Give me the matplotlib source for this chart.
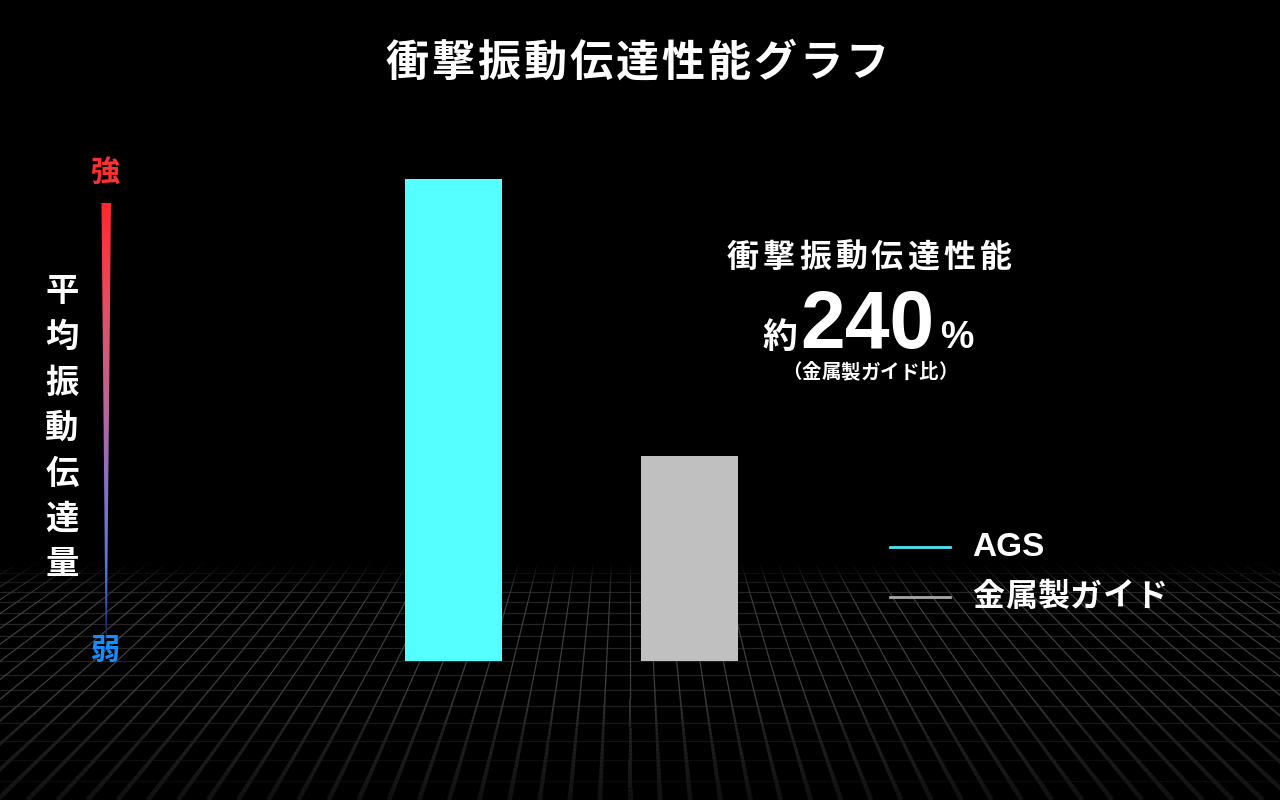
import numpy as np
import matplotlib
matplotlib.use("Agg")
import matplotlib.pyplot as plt
from matplotlib.patches import Polygon
from matplotlib.collections import LineCollection

plt.rcParams['font.family'] = ['Noto Sans CJK JP', 'DejaVu Sans']

# データ
categories = ["AGS", "金属製ガイド"]
values = [235, 100]          # 金属製ガイド = 100 とした相対値
bar_colors = ["#55FFFF", "#C0C0C0"]
legend_colors = ["#4FE6F2", "#A8A8A8"]

title = "衝撃振動伝達性能グラフ"
ylabel = "平均振動伝達量"
note_head = "衝撃振動伝達性能"
note_value = "240"
note_sub = "（金属製ガイド比）"

W, H = 1280, 800
fig = plt.figure(figsize=(W / 100, H / 100), dpi=100, facecolor="black")

# 背景（ピクセル座標）
bg = fig.add_axes([0, 0, 1, 1])
bg.set_autoscale_on(False)
bg.set_xlim(0, W)
bg.set_ylim(H, 0)
bg.set_facecolor("black")
bg.axis("off")


def spaced(ax, text, cx, cy, step, **kw):
    """文字を等間隔に並べる（字間あり）"""
    n = len(text)
    for i, ch in enumerate(text):
        ax.text(cx + (i - (n - 1) / 2) * step, cy, ch, ha="center",
                va="center", **kw)


# 遠近グリッドの床（奥はくっきり、手前はぼやけて暗く）
y_h, x_vp = 185.0, 630.0
edges = np.linspace(562, 800, 60)
mids = (edges[:-1] + edges[1:]) / 2
g_v = np.interp(mids, [562, 585, 605, 690, 730, 800], [0, 0.18, 0.27, 0.25, 0.13, 0.065])
lw_v = np.interp(mids, [562, 690, 800], [0.8, 0.9, 3.5])
segs, cols, lws = [], [], []
for k in range(-45, 46):
    for y0, y1, g, w in zip(edges[:-1], edges[1:], g_v, lw_v):
        segs.append([(x_vp + k * 0.049 * (y0 - y_h), y0),
                     (x_vp + k * 0.049 * (y1 - y_h), y1)])
        cols.append((g, g, g))
        lws.append(w)
bg.add_collection(LineCollection(segs, colors=cols, linewidths=lws,
                                 capstyle="butt", zorder=1))
for k in range(-4, 15):
    y = y_h + 1.0 / (0.002459 - 0.00006 * k)
    if 562 < y < 800:
        g = np.interp(y, [562, 590, 700, 760, 800], [0, 0.14, 0.13, 0.05, 0.03])
        bg.plot([0, W], [y, y], color=(g, g, g), lw=0.9, zorder=0.9)

# 強弱の縦グラデーション
stops_y = [203, 300, 400, 480, 560, 600, 640]
stops_c = np.array([[255, 40, 45], [235, 75, 95], [190, 100, 150],
                    [140, 110, 195], [90, 120, 225], [55, 95, 200],
                    [15, 30, 70]]) / 255.0
gy = np.linspace(203, 640, 300)
grad = np.stack([np.interp(gy, stops_y, stops_c[:, i]) for i in range(3)],
                axis=1)[:, None, :]
im = bg.imshow(grad, extent=[100, 112, 640, 203], aspect="auto", zorder=3,
               interpolation="bilinear")
taper = Polygon([[101.5, 203], [111, 203], [106.8, 640], [105.6, 640]],
                closed=True, transform=bg.transData, fc="none", ec="none")
bg.add_patch(taper)
im.set_clip_path(taper)

bg.text(106, 172, "強", color="#FF3030", fontsize=21, fontweight="bold",
        ha="center", va="center", zorder=5)
bg.text(106, 650, "弱", color="#168CFF", fontsize=21, fontweight="bold",
        ha="center", va="center", zorder=5)

for i, ch in enumerate(ylabel):
    bg.text(62, 292 + i * 45.5, ch, color="white", fontsize=24,
            fontweight="bold", ha="center", va="center", zorder=5)

# タイトル
spaced(bg, title, 637, 63, 46, color="white", fontsize=31,
       fontweight="bold", zorder=5)

# 注記
spaced(bg, note_head, 869, 258, 36, color="white", fontsize=23,
       fontweight="bold", zorder=5)
bg.text(797, 348, "約", color="white", fontsize=25, fontweight="bold",
        ha="right", va="baseline", zorder=5)
bg.text(800, 348, note_value, color="white", fontsize=58, fontweight="bold",
        family=["Liberation Sans", "DejaVu Sans"],
        ha="left", va="baseline", zorder=5)
bg.text(940, 348, "%", color="white", fontsize=27, fontweight="bold",
        family=["Liberation Sans", "DejaVu Sans"],
        ha="left", va="baseline", zorder=5)
spaced(bg, note_sub, 870, 373, 19.5, color="white", fontsize=14,
       fontweight="bold", zorder=5)

# 凡例
for i, (name, c) in enumerate(zip(categories, legend_colors)):
    y = 547 + i * 50
    bg.plot([890, 950], [y, y], color=c, lw=2, zorder=5)
    if i == 0:
        bg.text(972, y + 1, name, color="white", fontsize=24,
                fontweight="bold", family=["Liberation Sans", "DejaVu Sans"],
                ha="left", va="center", zorder=5)
    else:
        spaced(bg, name, 972 + 16.5 + 2.5 * 32.5, y, 32.5, color="white",
               fontsize=23, fontweight="bold", zorder=5)

# 棒グラフ
ax = fig.add_axes([335.5 / W, (H - 661) / H, 472 / W, 482 / H])
ax.set_facecolor("none")
ax.bar(range(len(values)), values, width=97 / 236, color=bar_colors)
ax.set_xlim(-0.5, 1.5)
ax.set_ylim(0, values[0])
ax.axis("off")

bg.set_xlim(0, W)
bg.set_ylim(H, 0)
fig.savefig("out.png", dpi=100, facecolor="black")
